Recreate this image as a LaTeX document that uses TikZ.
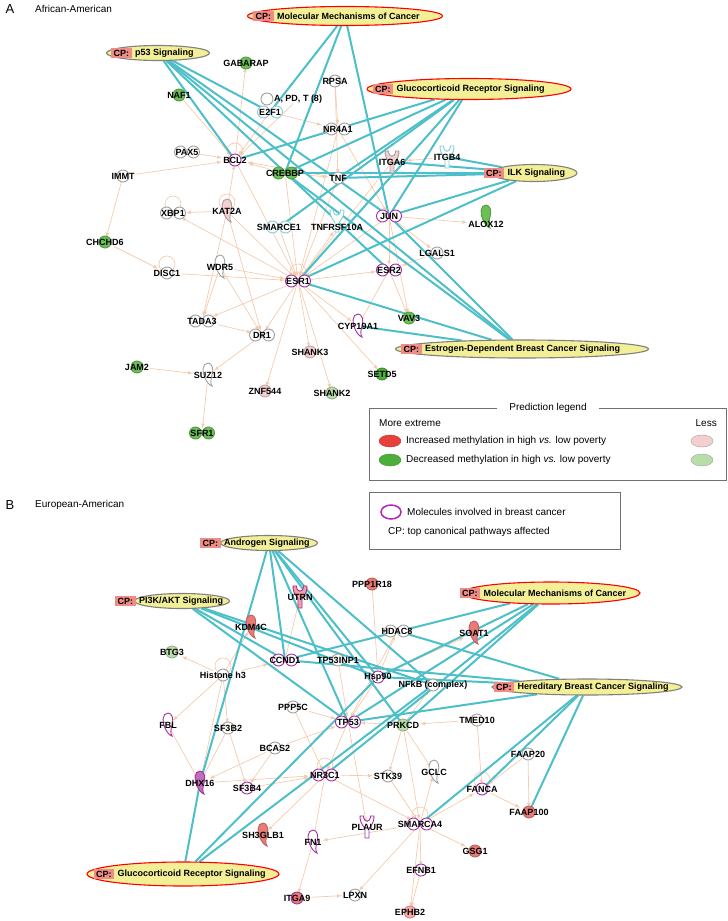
\documentclass[tikz,border=0pt]{standalone}
\usepackage{fontspec}
\setmainfont{Liberation Sans}
\usetikzlibrary{positioning,shapes.geometric}
\pgfdeclarelayer{edges}
\pgfdeclarelayer{shapes}
\pgfsetlayers{edges,shapes,main}
\definecolor{cpyellow}{HTML}{F2EF96}
\definecolor{cpsalmon}{HTML}{EE8C87}
\definecolor{pathline}{HTML}{4DBFC9}
\definecolor{relline}{HTML}{F5CBAE}
\definecolor{upred}{HTML}{E8403A}
\definecolor{dngreen}{HTML}{4DAF3B}
\definecolor{molgreen}{HTML}{6BBF55}
\definecolor{molpale}{HTML}{B9DDA8}
\definecolor{molred}{HTML}{E97A77}
\definecolor{molpink}{HTML}{F5CFCF}
\definecolor{bcmag}{HTML}{A4309E}
\definecolor{outl}{HTML}{A0A0A0}
\definecolor{hlblue}{HTML}{86CFD6}
\tikzset{
  >=latex,
}
\tikzstyle{gene}=[font=\bfseries\fontsize{9}{10}\selectfont,inner sep=1pt]
\tikzstyle{cpoval}=[ellipse,fill=cpyellow,line width=1.1pt,inner sep=0pt]
\tikzstyle{cptag}=[fill=cpsalmon,font=\bfseries\fontsize{9}{10}\selectfont,inner xsep=2.5pt,inner ysep=2pt]
\tikzstyle{cptext}=[font=\bfseries\fontsize{9}{10}\selectfont,inner sep=1pt]
\tikzstyle{cpline}=[pathline,line width=2pt]
\tikzstyle{rel}=[relline,line width=.7pt,->]
\tikzstyle{legend}=[font=\fontsize{10}{12}\selectfont,inner sep=1pt]
\newcommand{\cpnode}[7]{%
  \node[cpoval,draw=#5,minimum width=#3pt,minimum height=#4pt] (#1) at (#2) {};
  \node[cptag,anchor=west] (#1tag) at ([xshift=#6pt]#1.west) {CP:};
  \node[cptext,right=2pt of #1tag] (#1txt) {#7};}
\newcommand{\onecirc}[3]{\filldraw[fill=#2,draw=#3,line width=.9pt] (#1) circle (6pt);}
\newcommand{\twocirc}[3]{\fill[#2] ([xshift=-6.5pt]#1) circle (6pt) ([xshift=6.5pt]#1) circle (6pt);
  \draw[#3,line width=.9pt] ([xshift=-6.5pt]#1) circle (6pt) ([xshift=6.5pt]#1) circle (6pt);}
\newcommand{\hookshape}[3]{\filldraw[fill=#2,draw=#3,line width=.9pt,shift={(#1)}]
  (0,-12) .. controls (-6,-12) and (-6,-2) .. (-3,3) .. controls (-1,7) and (1,10) .. (4,11)
  .. controls (2,8) and (3,4) .. (4,0) .. controls (6,-6) and (4,-12) .. (0,-12) -- cycle;}
\newcommand{\yshape}[3]{\filldraw[fill=#2,draw=#3,line width=.9pt,shift={(#1)}]
  (-7,-11) -- (-3.5,-11) .. controls (-3.5,-4) and (3.5,-4) .. (3.5,-11) -- (7,-11)
  .. controls (7,-2) and (2,0) .. (2,2) -- (2,11) -- (-2,11) -- (-2,2)
  .. controls (-2,0) and (-7,-2) .. (-7,-11) -- cycle;}
\newcommand{\selfloop}[1]{\draw[relline,line width=.7pt] ([yshift=9pt]#1) circle (8pt);}
\begin{document}
\begin{tikzpicture}[x=1pt,y=-1pt]
  \useasboundingbox (0,0) rectangle (728,921);
  \node[font=\fontsize{13}{14}\selectfont,anchor=west] (pa) at (2,9) {A};
  \node[legend,anchor=west] (pahead) at (34,9) {African-American};
  \node[font=\fontsize{13}{14}\selectfont,anchor=west] (pb) at (2,505) {B};
  \node[legend,anchor=west] (pbhead) at (34,505) {European-American};

  \cpnode{mmcA}{345,16}{195}{19}{red}{6}{Molecular Mechanisms of Cancer}
  \cpnode{p53}{158,53}{103}{15}{gray}{5}{p53 Signaling}
  \cpnode{grsA}{469,89}{204}{21}{red}{6}{Glucocorticoid Receptor Signaling}
  \cpnode{ilk}{534,173}{86}{17}{gray}{-7}{ILK Signaling}
  \cpnode{estro}{522,349}{253}{18}{gray}{6}{Estrogen-Dependent Breast Cancer Signaling}

  \node[gene] (gabarap) at (246,63) {GABARAP};
  \node[gene] (rpsa) at (335,81) {RPSA};
  \node[gene] (naf1) at (179,95) {NAF1};
  \node[gene] (apdt) at (298,99) {A, PD, T (8)};
  \node[gene] (e2f1) at (270,112) {E2F1};
  \node[gene] (nr4a1) at (338,129) {NR4A1};
  \node[gene] (pax5) at (187,152) {PAX5};
  \node[gene] (bcl2) at (235,160) {BCL2};
  \node[gene] (immt) at (123,176) {IMMT};
  \node[gene] (crebbp) at (285,173) {CREBBP};
  \node[gene] (tnf) at (338,178) {TNF};
  \node[gene] (xbp1) at (173,213) {XBP1};
  \node[gene] (kat2a) at (227,211) {KAT2A};
  \node[gene] (smarce1) at (279,227) {SMARCE1};
  \node[gene] (tnfrsf) at (337,227) {TNFRSF10A};
  \node[gene] (itga6) at (392,162) {ITGA6};
  \node[gene] (itgb4) at (447,157) {ITGB4};
  \node[gene] (jun) at (389,216) {JUN};
  \node[gene] (alox12) at (486,224) {ALOX12};
  \node[gene] (lgals1) at (437,253) {LGALS1};
  \node[gene] (esr2) at (389,270) {ESR2};
  \node[gene] (esr1) at (298,281) {ESR1};
  \node[gene] (vav3) at (409,318) {VAV3};
  \node[gene] (cyp19a1) at (358,326) {CYP19A1};
  \node[gene] (setd5) at (382,374) {SETD5};
  \node[gene] (chchd6) at (105,242) {CHCHD6};
  \node[gene] (disc1) at (167,273) {DISC1};
  \node[gene] (wdr5) at (220,267) {WDR5};
  \node[gene] (tada3) at (202,321) {TADA3};
  \node[gene] (dr1) at (262,335) {DR1};
  \node[gene] (shank3) at (310,352) {SHANK3};
  \node[gene] (jam2) at (137,367) {JAM2};
  \node[gene] (suz12) at (208,375) {SUZ12};
  \node[gene] (znf544) at (265,391) {ZNF544};
  \node[gene] (shank2) at (332,393) {SHANK2};
  \node[gene] (sfr1) at (202,433) {SFR1};

  \draw[outl!70!black,line width=.8pt] (369,408) rectangle (726,480);
  \node[legend,fill=white,inner xsep=12pt] (predtitle) at (548,408) {Prediction legend};
  \node[legend,anchor=west] (moreext) at (378,423) {More extreme};
  \node[legend,anchor=east] (less) at (718,423) {Less};
  \node[legend,anchor=west] (incr) at (405,441) {Increased methylation in high \textit{vs.} low poverty};
  \node[legend,anchor=west] (decr) at (405,460) {Decreased methylation in high \textit{vs.} low poverty};
  \filldraw[fill=upred,draw=upred!80!black] (390,441) ellipse (11pt and 6pt);
  \filldraw[fill=dngreen,draw=dngreen!80!black] (390,460) ellipse (11pt and 6pt);
  \filldraw[fill=molpink,draw=outl] (702,441) ellipse (11pt and 6pt);
  \filldraw[fill=molpale,draw=outl] (702,460) ellipse (11pt and 6pt);

  \draw[outl!70!black,line width=.8pt] (369,492) rectangle (620,549);
  \draw[bcmag!80!magenta,line width=1.5pt] (391,512) ellipse (10pt and 7pt);
  \node[legend,anchor=west] (molbc) at (406,512) {Molecules involved in breast cancer};
  \node[legend,anchor=west] (cpnote) at (387,532) {CP: top canonical pathways affected};

  \cpnode{andro}{269,543}{97}{15}{gray}{-20}{Androgen Signaling}
  \cpnode{pi3k}{182,601}{95}{15}{gray}{-19}{PI3K/AKT Signaling}
  \cpnode{mmcB}{551,593}{178}{22}{red}{-2}{Molecular Mechanisms of Cancer}
  \cpnode{hered}{587,687}{190}{16}{gray}{2}{Hereditary Breast Cancer Signaling}
  \cpnode{grsB}{183,874}{192}{24}{red}{7}{Glucocorticoid Receptor Signaling}

  \node[gene] (utrn) at (300,597) {UTRN};
  \node[gene] (kdm4c) at (251,627) {KDM4C};
  \node[gene] (btg3) at (172,652) {BTG3};
  \node[gene] (ccnd1) at (285,660) {CCND1};
  \node[gene] (tp53inp1) at (338,660) {TP53INP1};
  \node[gene] (histone) at (223,675) {Histone h3};
  \node[gene] (ppp1r18) at (372,584) {PPP1R18};
  \node[gene] (hdac8) at (397,631) {HDAC8};
  \node[gene] (soat1) at (474,633) {SOAT1};
  \node[gene] (hsp90) at (378,677) {Hsp90};
  \node[gene] (nfkb) at (433,685) {NFkB (complex)};
  \node[gene] (ppp5c) at (293,707) {PPP5C};
  \node[gene] (tp53) at (348,722) {TP53};
  \node[gene] (prkcd) at (403,725) {PRKCD};
  \node[gene] (tmed10) at (477,720) {TMED10};
  \node[gene] (sf3b2) at (228,728) {SF3B2};
  \node[gene] (bcas2) at (275,748) {BCAS2};
  \node[gene] (fbl) at (168,725) {FBL};
  \node[gene] (dhx16) at (200,783) {DHX16};
  \node[gene] (sf3b4) at (247,788) {SF3B4};
  \node[gene] (nr3c1) at (325,775) {NR3C1};
  \node[gene] (stk39) at (388,776) {STK39};
  \node[gene] (gclc) at (434,772) {GCLC};
  \node[gene] (faap20) at (528,754) {FAAP20};
  \node[gene] (fanca) at (482,789) {FANCA};
  \node[gene] (faap100) at (529,812) {FAAP100};
  \node[gene] (smarca4) at (420,824) {SMARCA4};
  \node[gene] (plaur) at (367,827) {PLAUR};
  \node[gene] (sh3glb1) at (263,835) {SH3GLB1};
  \node[gene] (fn1) at (313,842) {FN1};
  \node[gene] (gsg1) at (475,851) {GSG1};
  \node[gene] (efnb1) at (421,870) {EFNB1};
  \node[gene] (itga9) at (297,898) {ITGA9};
  \node[gene] (lpxn) at (355,895) {LPXN};
  \node[gene] (ephb2) at (410,912) {EPHB2};

  \begin{pgfonlayer}{shapes}
    \onecirc{gabarap.center}{molgreen}{molgreen!80!black}
    \onecirc{rpsa.center}{white}{outl}
    \onecirc{naf1.center}{molgreen}{molgreen!80!black}
    \onecirc{[xshift=-31pt]apdt.center}{white}{outl}
    \twocirc{e2f1.center}{white}{hlblue}
    \twocirc{nr4a1.center}{white}{outl}
    \twocirc{pax5.center}{white}{outl}
    \onecirc{bcl2.center}{white}{bcmag}
    \onecirc{immt.center}{white}{outl}
    \twocirc{crebbp.center}{molgreen}{molgreen!80!black}
    \onecirc{tnf.center}{white}{outl}
    \twocirc{xbp1.center}{white}{outl}
    \hookshape{kat2a.center}{molpink}{outl}
    \twocirc{smarce1.center}{white}{hlblue}
    \yshape{[yshift=6pt]tnfrsf.center}{white}{hlblue}
    \yshape{itga6.center}{molpink}{outl}
    \yshape{itgb4.center}{white}{hlblue}
    \twocirc{jun.center}{white}{bcmag}
    \hookshape{[yshift=7pt]alox12.center}{molgreen}{molgreen!80!black}
    \onecirc{lgals1.center}{white}{outl}
    \twocirc{esr2.center}{white}{bcmag}
    \twocirc{esr1.center}{white}{bcmag}
    \onecirc{vav3.center}{molgreen}{molgreen!80!black}
    \hookshape{cyp19a1.center}{white}{bcmag}
    \onecirc{setd5.center}{dngreen}{dngreen!80!black}
    \onecirc{chchd6.center}{molgreen}{molgreen!80!black}
    \onecirc{disc1.center}{white}{outl}
    \hookshape{wdr5.center}{white}{outl}
    \twocirc{tada3.center}{white}{outl}
    \twocirc{dr1.center}{white}{outl}
    \onecirc{shank3.center}{molpink}{molpink!80!black}
    \onecirc{jam2.center}{molgreen}{molgreen!80!black}
    \hookshape{suz12.center}{white}{outl}
    \onecirc{znf544.center}{molpink}{molpink!80!black}
    \onecirc{shank2.center}{molpale}{molpale!80!black}
    \twocirc{sfr1.center}{molgreen}{molgreen!80!black}

    \yshape{utrn.center}{molred!70!white}{bcmag}
    \hookshape{kdm4c.center}{molred}{molred!80!black}
    \onecirc{btg3.center}{molpale}{molpale!80!black}
    \twocirc{ccnd1.center}{white}{bcmag}
    \onecirc{tp53inp1.center}{white}{outl}
    \onecirc{histone.center}{white}{outl}
    \onecirc{ppp1r18.center}{molred}{molred!80!black}
    \twocirc{hdac8.center}{white}{outl}
    \hookshape{soat1.center}{molred}{molred!80!black}
    \onecirc{hsp90.center}{white}{bcmag}
    \onecirc{nfkb.center}{white}{outl}
    \onecirc{ppp5c.center}{white}{outl}
    \twocirc{tp53.center}{white}{bcmag}
    \onecirc{prkcd.center}{molpale}{molpale!80!black}
    \onecirc{tmed10.center}{white}{outl}
    \onecirc{sf3b2.center}{white}{outl}
    \onecirc{bcas2.center}{white}{outl}
    \hookshape{fbl.center}{white}{bcmag}
    \hookshape{dhx16.center}{bcmag!70!white}{bcmag}
    \onecirc{sf3b4.center}{white}{bcmag}
    \twocirc{nr3c1.center}{white}{bcmag}
    \onecirc{stk39.center}{white}{outl}
    \hookshape{gclc.center}{white}{outl}
    \onecirc{faap20.center}{white}{outl}
    \onecirc{fanca.center}{white}{bcmag}
    \onecirc{faap100.center}{molred}{molred!80!black}
    \twocirc{smarca4.center}{white}{bcmag}
    \yshape{plaur.center}{white}{bcmag}
    \hookshape{sh3glb1.center}{molred}{molred!80!black}
    \hookshape{fn1.center}{white}{bcmag}
    \onecirc{gsg1.center}{molred}{molred!80!black}
    \onecirc{efnb1.center}{white}{bcmag}
    \onecirc{itga9.center}{molred}{bcmag}
    \onecirc{lpxn.center}{white}{outl}
    \onecirc{ephb2.center}{molred!60!white}{molred}
  \end{pgfonlayer}

  \begin{pgfonlayer}{edges}
    \selfloop{xbp1.center}
    \selfloop{esr1.center}
    \selfloop{disc1.center}
    \selfloop{bcl2.center}
    \selfloop{kat2a.center}
    \selfloop{histone.center}
    \selfloop{nr3c1.center}
    \selfloop{smarca4.center}
    \selfloop{fanca.center}

    \draw[rel] (bcl2) -- (gabarap);
    \draw[rel] (rpsa) -- (tnf);
    \draw[rel] (rpsa) -- (nr4a1);
    \draw[rel] (naf1) -- (bcl2);
    \draw[rel] (e2f1) -- (bcl2);
    \draw[rel] (apdt) -- (bcl2);
    \draw[rel] (e2f1) -- (nr4a1);
    \draw[rel] (nr4a1) -- (bcl2);
    \draw[rel] (pax5) -- (bcl2);
    \draw[rel] (immt) -- (bcl2);
    \draw[rel] (immt) -- (chchd6);
    \draw[rel] (crebbp) -- (bcl2);
    \draw[rel] (tnf) -- (bcl2);
    \draw[rel] (kat2a) -- (bcl2);
    \draw[rel] (kat2a) -- (xbp1);
    \draw[rel] (bcl2) -- (esr1);
    \draw[rel] (kat2a) -- (esr1);
    \draw[rel] (kat2a) -- (tada3);
    \draw[rel] (kat2a) -- (dr1);
    \draw[rel] (esr1) -- (xbp1);
    \draw[rel] (chchd6) -- (disc1);
    \draw[rel] (disc1) -- (esr1);
    \draw[rel] (wdr5) -- (esr1);
    \draw[rel] (wdr5) -- (tada3);
    \draw[rel] (wdr5) -- (dr1);
    \draw[rel] (tada3) -- (dr1);
    \draw[rel] (esr1) -- (tada3);
    \draw[rel] (esr1) -- (dr1);
    \draw[rel] (dr1) -- (suz12);
    \draw[rel] (jam2) -- (suz12);
    \draw[rel] (suz12) -- (sfr1);
    \draw[rel] (esr1) -- (znf544);
    \draw[rel] (esr1) -- (shank3);
    \draw[rel] (esr1) -- (shank2);
    \draw[rel] (esr1) -- (setd5);
    \draw[rel] (esr1) -- (cyp19a1);
    \draw[rel] (esr1) -- (esr2);
    \draw[rel] (esr2) -- (vav3);
    \draw[rel] (esr2) -- (cyp19a1);
    \draw[rel] (jun) -- (esr2);
    \draw[rel] (jun) -- (esr1);
    \draw[rel] (jun) -- (vav3);
    \draw[rel] (jun) -- (alox12);
    \draw[rel] (jun) -- (lgals1);
    \draw[rel] (lgals1) -- (esr2);
    \draw[rel] (smarce1) -- (esr1);
    \draw[rel] (esr1) -- (tnfrsf);
    \draw[rel] (tnf) -- (esr1);
    \draw[rel] (crebbp) -- (esr1);
    \draw[rel] (nr4a1) -- (esr1);
    \draw[rel] (itga6) -- (esr1);
    \draw[rel] (itgb4) -- (itga6);
    \draw[rel] (crebbp) -- (tnf);
    \draw[rel] (nr4a1) -- (jun);

    \draw[cpline] (mmcA) -- (e2f1.center);
    \draw[cpline] (mmcA) -- (crebbp.center);
    \draw[cpline] (mmcA) -- (jun.center);
    \draw[cpline] (p53) -- (e2f1.center);
    \draw[cpline] (p53) -- (bcl2.center);
    \draw[cpline] (p53) -- (jun.center);
    \draw[cpline] (p53) -- (esr2.center);
    \draw[cpline] (p53) -- (estro);
    \draw[cpline] (grsA) -- (bcl2.center);
    \draw[cpline] (grsA) -- (crebbp.center);
    \draw[cpline] (grsA) -- (tnf.center);
    \draw[cpline] (grsA) -- (smarce1.center);
    \draw[cpline] (grsA) -- (esr1.center);
    \draw[cpline] (grsA) -- (jun.center);
    \draw[cpline] (ilk) -- (itgb4.center);
    \draw[cpline] (ilk) -- (itga6.center);
    \draw[cpline] (ilk) -- (crebbp.center);
    \draw[cpline] (ilk) -- (tnf.center);
    \draw[cpline] (ilk) -- (jun.center);
    \draw[cpline] (ilk) -- (esr1.center);
    \draw[cpline] (estro) -- (esr1.center);
    \draw[cpline] (estro) -- (cyp19a1.center);
    \draw[cpline] (estro) -- (jun.center);
    \draw[cpline] (estro) -- (crebbp.center);

    \draw[rel] (ccnd1) -- (utrn);
    \draw[rel] (histone) -- (kdm4c);
    \draw[rel] (histone) -- (btg3);
    \draw[rel] (histone) -- (ccnd1);
    \draw[rel] (histone) -- (sf3b2);
    \draw[rel] (histone) -- (dhx16);
    \draw[rel] (histone) -- (fbl);
    \draw[rel] (fbl) -- (dhx16);
    \draw[rel] (sf3b2) -- (dhx16);
    \draw[rel] (sf3b2) -- (sf3b4);
    \draw[rel] (bcas2) -- (dhx16);
    \draw[rel] (bcas2) -- (sf3b4);
    \draw[rel] (bcas2) -- (tp53);
    \draw[rel] (dhx16) -- (nr3c1);
    \draw[rel] (sf3b4) -- (nr3c1);
    \draw[rel] (ppp1r18) -- (hsp90);
    \draw[rel] (hdac8) -- (tp53);
    \draw[rel] (tp53inp1) -- (tp53);
    \draw[rel] (ppp5c) -- (tp53);
    \draw[rel] (ppp5c) -- (nr3c1);
    \draw[rel] (hsp90) -- (tp53);
    \draw[rel] (hsp90) -- (soat1);
    \draw[rel] (hsp90) -- (hdac8);
    \draw[rel] (tp53) -- (nr3c1);
    \draw[rel] (tp53) -- (plaur);
    \draw[rel] (prkcd) -- (tp53);
    \draw[rel] (tmed10) -- (prkcd);
    \draw[rel] (prkcd) -- (nfkb);
    \draw[rel] (prkcd) -- (stk39);
    \draw[rel] (prkcd) -- (gclc);
    \draw[rel] (prkcd) -- (smarca4);
    \draw[rel] (nr3c1) -- (stk39);
    \draw[rel] (nr3c1) -- (smarca4);
    \draw[rel] (nr3c1) -- (fn1);
    \draw[rel] (nr3c1) -- (sh3glb1);
    \draw[rel] (stk39) -- (smarca4);
    \draw[rel] (smarca4) -- (gclc);
    \draw[rel] (smarca4) -- (fanca);
    \draw[rel] (tmed10) -- (fanca);
    \draw[rel] (faap20) -- (fanca);
    \draw[rel] (faap20) -- (faap100);
    \draw[rel] (fanca) -- (faap100);
    \draw[rel] (smarca4) -- (gsg1);
    \draw[rel] (smarca4) -- (efnb1);
    \draw[rel] (smarca4) -- (ephb2);
    \draw[rel] (efnb1) -- (ephb2);
    \draw[rel] (smarca4) -- (lpxn);
    \draw[rel] (itga9) -- (lpxn);
    \draw[rel] (fn1) -- (itga9);
    \draw[rel] (smarca4) -- (fn1);

    \draw[cpline] (andro) -- (dhx16.center);
    \draw[cpline] (andro) -- (ccnd1.center);
    \draw[cpline] (andro) -- (hsp90.center);
    \draw[cpline] (andro) -- (prkcd.center);
    \draw[cpline] (andro) -- (nfkb.center);
    \draw[cpline] (andro) -- (tp53.center);
    \draw[cpline] (pi3k) -- (ccnd1.center);
    \draw[cpline] (pi3k) -- (tp53.center);
    \draw[cpline] (pi3k) -- (hsp90.center);
    \draw[cpline] (pi3k) -- (nfkb.center);
    \draw[cpline] (mmcB) -- (ccnd1.center);
    \draw[cpline] (mmcB) -- (hsp90.center);
    \draw[cpline] (mmcB) -- (tp53.center);
    \draw[cpline] (mmcB) -- (nr3c1.center);
    \draw[cpline] (mmcB) -- (prkcd.center);
    \draw[cpline] (hered) -- (ccnd1.center);
    \draw[cpline] (hered) -- (hdac8.center);
    \draw[cpline] (hered) -- (hsp90.center);
    \draw[cpline] (hered) -- (tp53.center);
    \draw[cpline] (hered) -- (fanca.center);
    \draw[cpline] (hered) -- (smarca4.center);
    \draw[cpline] (hered) -- (faap100.center);
    \draw[cpline] (grsB) -- (dhx16.center);
    \draw[cpline] (grsB) -- (hsp90.center);
    \draw[cpline] (grsB) -- (nfkb.center);
  \end{pgfonlayer}
\end{tikzpicture}
\end{document}
